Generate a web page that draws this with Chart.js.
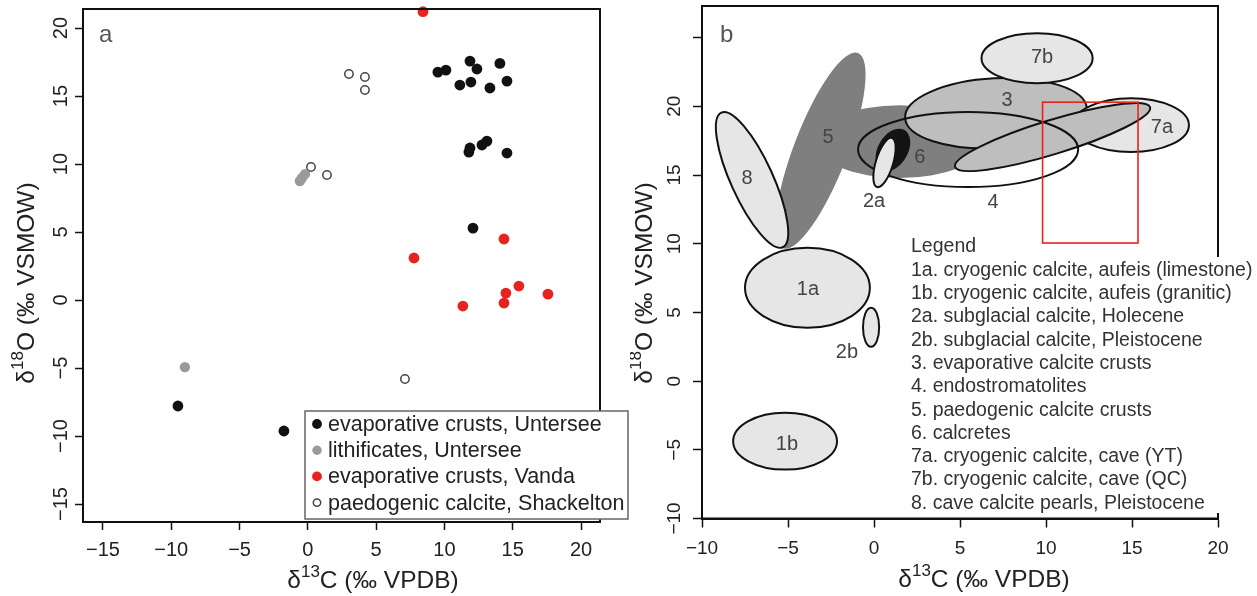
<!DOCTYPE html>
<html><head><meta charset="utf-8">
<script src="https://cdn.jsdelivr.net/npm/chart.js@4.4.0/dist/chart.umd.min.js"></script>
<style>
html,body{margin:0;padding:0;background:#fff;}
#wrap{position:relative;width:1257px;height:596px;overflow:hidden;background:#fff;}
#ca{position:absolute;left:0;top:0;}
#cb{position:absolute;left:630px;top:0;}
</style></head><body>
<div id="wrap">
<canvas id="ca" width="640" height="596"></canvas>
<canvas id="cb" width="627" height="596"></canvas>
</div>
<script>
// ---------- Panel a data ----------
const seriesLabels = ['evaporative crusts, Untersee','lithificates, Untersee','evaporative crusts, Vanda','paedogenic calcite, Shackelton'];
const untX = [11.87,12.38,14.06,9.52,10.11,11.13,11.94,13.33,14.58,11.79,11.87,12.75,13.11,14.58,12.09,-9.51,-1.75];
const untY = [17.57,16.99,17.40,16.76,16.91,15.81,16.03,15.59,16.10,10.88,11.18,11.40,11.69,10.81,5.29,-7.79,-9.63];
const lithX = [-9.0,-0.58,-0.43,-0.21];
const lithY = [-4.93,8.75,8.97,9.26];
const vanX = [8.43,14.36,7.77,15.45,14.5,17.58,11.35,14.36];
const vanY = [21.2,4.49,3.09,1.03,0.51,0.44,-0.44,-0.22];
const shkX = [3.01,4.18,4.18,0.23,1.40,7.11];
const shkY = [16.62,16.40,15.44,9.78,9.19,-5.81];

// ---------- Panel b data ----------
const fieldIds = ['5','5','8','1a','1b','2b','3','7b','7a','3','4','6','2a'];
const fieldCx  = [-3.11,1.51,-7.09,-3.87,-5.17,-0.17,7.09,9.48,14.94,10.38,5.47,1.1,0.61];
const fieldCy  = [16.78,17.43,14.64,6.79,-4.37,3.92,19.5,23.5,18.63,17.76,16.85,16.82,15.91];
const fieldRx  = [6.08,4.94,4.3,3.63,3.02,0.47,5.29,3.23,3.37,5.93,6.4,1.34,1.49];
const fieldRy  = [1.95,2.65,1.53,2.91,2.07,1.42,2.54,1.82,1.96,1.24,2.73,1.09,0.63];
const fieldRot = [-69,0,65.5,0,0,0,-3,0,0,-17,0,-60,-73];
const labelIds = ['5','8','6','2a','3','4','7b','7a','1a','2b','1b'];
const labelX   = [-2.67,-7.38,2.67,0.0,7.73,6.92,9.77,16.74,-3.84,-1.57,-5.06];
const labelY   = [17.76,14.78,16.31,13.1,20.45,12.97,23.58,18.49,6.64,2.06,-4.62];
const legendTitle = 'Legend';
const legendLines = ['1a. cryogenic calcite, aufeis (limestone)','1b. cryogenic calcite, aufeis (granitic)','2a. subglacial calcite, Holecene','2b. subglacial calcite, Pleistocene','3. evaporative calcite crusts','4. endostromatolites','5. paedogenic calcite crusts','6. calcretes','7a. cryogenic calcite, cave (YT)','7b. cryogenic calcite, cave (QC)','8. cave calcite pearls, Pleistocene'];
const boxX = [9.8, 15.35];
const boxY = [10.05, 20.3];

// ---------- styles ----------
const FAM = "'Liberation Sans', Arial, Helvetica, sans-serif";
const fieldFill = {'5':'#7f7f7f','8':'#e6e6e6','1a':'#e6e6e6','1b':'#e6e6e6','2b':'#e6e6e6','3':'#bebebe','7b':'#e6e6e6','7a':'#e6e6e6','4':null,'6':'#141414','2a':'#e6e6e6'};
const fieldStroke = {'5':false,'6':false};

function pts(xs, ys){ return xs.map((x,i)=>({x:x,y:ys[i]})); }
function fmt(v){ return v === 25 ? '' : String(v).replace('-', '\u2212'); }

function drawRich(ctx, parts, x, y, rotate, color){
  ctx.save();
  ctx.translate(x, y);
  if (rotate) ctx.rotate(-Math.PI/2);
  ctx.fillStyle = color; ctx.textBaseline = 'alphabetic'; ctx.textAlign = 'left';
  let total = 0;
  parts.forEach(p => { ctx.font = p[1]+'px '+FAM; total += ctx.measureText(p[0]).width; });
  let cx = -total/2;
  parts.forEach(p => { ctx.font = p[1]+'px '+FAM; ctx.fillText(p[0], cx, -p[2]); cx += ctx.measureText(p[0]).width; });
  ctx.restore();
}
const titleX = [['δ',24.5,0],['13',17,11],['C (‰ VPDB)',24.5,0]];
const titleY = [['δ',24.5,0],['18',17,11],['O (‰ VSMOW)',24.5,0]];

function frame(chart){
  const a = chart.chartArea, ctx = chart.ctx;
  ctx.save(); ctx.strokeStyle = '#111'; ctx.lineWidth = 2;
  ctx.strokeRect(a.left, a.top, a.right - a.left, a.bottom - a.top);
  ctx.restore();
}

function axisCfg(min, max, size, tl, pad, isY, fitSize){
  return {
    type:'linear', min:min, max:max,
    afterFit(s){ if (isY) s.width = fitSize; else s.height = fitSize; s.paddingLeft=0; s.paddingRight=0; s.paddingTop=0; s.paddingBottom=0; },
    ticks: Object.assign({stepSize:5, includeBounds:false, padding:pad, color:'#222', autoSkip:false,
      font:{size:size, family:FAM, lineHeight:1.2}, callback: fmt},
      isY ? {crossAlign:'center', minRotation:90, maxRotation:90} : {maxRotation:0, minRotation:0}),
    grid:{drawOnChartArea:false, drawTicks:true, tickLength:tl, tickWidth:1.5, tickColor:'#111'},
    border:{display:true, color:'#111', width:2}
  };
}

// ---------- Chart A ----------
const panelAPlugin = {
  id:'panelA',
  afterDraw(chart){
    const ctx = chart.ctx;
    frame(chart);
    ctx.save();
    ctx.fillStyle = '#555'; ctx.font = '24px '+FAM; ctx.textBaseline='alphabetic';
    ctx.fillText('a', 99, 42);
    ctx.restore();
    drawRich(ctx, titleX, 373, 588, false, '#222');
    drawRich(ctx, titleY, 34, 283, true, '#222');
    // legend
    ctx.save();
    ctx.fillStyle = '#fff'; ctx.fillRect(305, 411, 323, 108);
    ctx.strokeStyle = '#666'; ctx.lineWidth = 1.5; ctx.strokeRect(305, 411, 323, 108);
    chart.data.datasets.forEach((ds, i) => {
      const y = 424 + i*26.2;
      ctx.beginPath(); ctx.arc(317, y, ds.pointRadius - 0.5, 0, Math.PI*2);
      ctx.fillStyle = ds.backgroundColor; ctx.fill();
      if (ds.borderWidth){ ctx.strokeStyle = ds.borderColor; ctx.lineWidth = ds.borderWidth; ctx.stroke(); }
      ctx.fillStyle = '#222'; ctx.font = '21.5px '+FAM; ctx.textBaseline = 'middle'; ctx.textAlign='left';
      ctx.fillText(ds.label, 328, y + 1);
    });
    ctx.restore();
  }
};

new Chart(document.getElementById('ca'), {
  type:'scatter',
  data:{ datasets:[
    {label:seriesLabels[0], data:pts(untX,untY), backgroundColor:'#111', borderColor:'#111', borderWidth:0, pointRadius:5.4, clip:false},
    {label:seriesLabels[1], data:pts(lithX,lithY), backgroundColor:'#9a9a9a', borderColor:'#9a9a9a', borderWidth:0, pointRadius:5.2, clip:false},
    {label:seriesLabels[2], data:pts(vanX,vanY), backgroundColor:'#e8231f', borderColor:'#e8231f', borderWidth:0, pointRadius:5.4, clip:false},
    {label:seriesLabels[3], data:pts(shkX,shkY), backgroundColor:'rgba(255,255,255,0)', borderColor:'#444', borderWidth:1.5, pointRadius:4.2, clip:false}
  ]},
  options:{
    responsive:false, animation:false, devicePixelRatio:1,
    layout:{padding:{left:0, top:9, right:40, bottom:0}},
    plugins:{legend:{display:false}, tooltip:{enabled:false}},
    scales:{
      x: axisCfg(-16.46, 21.39, 20, 8, 8, false, 74),
      y: axisCfg(-16.32, 21.4, 20, 8, -3, true, 83)
    }
  },
  plugins:[panelAPlugin]
});

// ---------- Chart B ----------
const panelBPlugin = {
  id:'panelB',
  beforeDatasetsDraw(chart){
    const ctx = chart.ctx, xs = chart.scales.x, ys = chart.scales.y;
    ctx.save();
    fieldIds.forEach((id, i) => {
      const px = xs.getPixelForValue(fieldCx[i]), py = ys.getPixelForValue(fieldCy[i]);
      const a = Math.abs(xs.getPixelForValue(fieldCx[i] + fieldRx[i]) - px);
      const b = Math.abs(ys.getPixelForValue(fieldCy[i] + fieldRy[i]) - py);
      ctx.beginPath();
      ctx.ellipse(px, py, a, b, fieldRot[i]*Math.PI/180, 0, Math.PI*2);
      if (fieldFill[id]) { ctx.fillStyle = fieldFill[id]; ctx.fill(); }
      if (fieldStroke[id] !== false) { ctx.strokeStyle = '#111'; ctx.lineWidth = 2; ctx.stroke(); }
    });
    ctx.fillStyle = '#444'; ctx.font = '20px '+FAM; ctx.textAlign = 'center'; ctx.textBaseline = 'middle';
    labelIds.forEach((t, i) => ctx.fillText(t, xs.getPixelForValue(labelX[i]), ys.getPixelForValue(labelY[i])));
    // red box
    const x1 = xs.getPixelForValue(boxX[0]), x2 = xs.getPixelForValue(boxX[1]);
    const y1 = ys.getPixelForValue(boxY[1]), y2 = ys.getPixelForValue(boxY[0]);
    ctx.strokeStyle = '#e8231f'; ctx.lineWidth = 1.6;
    ctx.strokeRect(x1, y1, x2 - x1, y2 - y1);
    ctx.restore();
  },
  afterDraw(chart){
    const ctx = chart.ctx;
    frame(chart);
    ctx.save();
    ctx.fillStyle = '#555'; ctx.font = '24px '+FAM; ctx.textBaseline='alphabetic';
    ctx.fillText('b', 90, 42);
    // legend
    ctx.fillStyle = '#fff'; ctx.fillRect(275, 257, 352, 256);
    ctx.fillStyle = '#333'; ctx.font = '19.5px '+FAM; ctx.textBaseline = 'middle'; ctx.textAlign = 'left';
    ctx.fillText(legendTitle, 281, 247);
    legendLines.forEach((t, i) => ctx.fillText(t, 281, 270.4 + i*23.3));
    ctx.restore();
    drawRich(ctx, titleX, 354, 587, false, '#222');
    drawRich(ctx, titleY, 22, 283, true, '#222');
  }
};

new Chart(document.getElementById('cb'), {
  type:'scatter',
  data:{ datasets:[] },
  options:{
    responsive:false, animation:false, devicePixelRatio:1,
    layout:{padding:{left:0, top:6, right:39, bottom:0}},
    plugins:{legend:{display:false}, tooltip:{enabled:false}},
    scales:{
      x: axisCfg(-10, 20, 19, 9, 10, false, 77.5),
      y: axisCfg(-10, 27.3, 19, 9, 2, true, 72)
    }
  },
  plugins:[panelBPlugin]
});
</script>
</body></html>
